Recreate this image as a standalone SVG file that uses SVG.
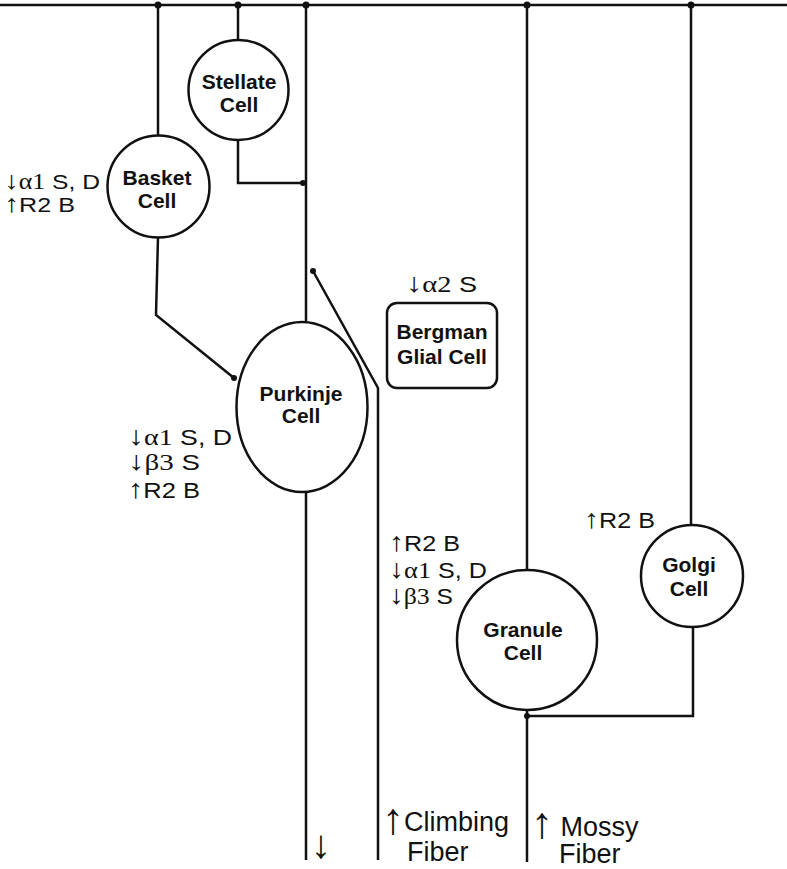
<svg xmlns="http://www.w3.org/2000/svg" width="787" height="869" viewBox="0 0 787 869">
<style>
.ln{stroke:#111;stroke-width:2.5;fill:none}
.cell{stroke:#111;stroke-width:2.5;fill:#fff}
.dot{fill:#111}
.nm{font-family:"Liberation Sans",Arial,sans-serif;font-weight:bold;font-size:21px;fill:#111;text-anchor:middle}
.lb{font-family:"Liberation Sans",Arial,sans-serif;font-size:22px;fill:#111}
.sm{font-size:21px}
.gr{font-family:"Liberation Serif","Times New Roman",serif;font-size:1.05em}
.ar{font-family:"Liberation Sans",Arial,sans-serif;font-size:1.2em}
.big{font-family:"Liberation Sans",Arial,sans-serif;font-size:27px;fill:#111}
.bar{font-family:"Liberation Sans",Arial,sans-serif;font-size:44px}
</style>
<rect width="787" height="869" fill="#fff"/>
<g id="connectors">
<line class="ln" x1="0" y1="5" x2="787" y2="5" stroke-width="3"/>
<line class="ln" x1="158" y1="5" x2="158" y2="136"/>
<line class="ln" x1="238" y1="5" x2="238" y2="40"/>
<line class="ln" x1="306" y1="5" x2="306" y2="322"/>
<line class="ln" x1="306" y1="492" x2="306" y2="860"/>
<line class="ln" x1="527" y1="5" x2="527" y2="570"/>
<line class="ln" x1="527" y1="710" x2="527" y2="862"/>
<line class="ln" x1="691" y1="5" x2="691" y2="525"/>
<polyline class="ln" points="238,140 238,183 303,183"/>
<polyline class="ln" points="158,237 156,315 234,378"/>
<polyline class="ln" points="313,271 378,388 378,860"/>
<polyline class="ln" points="527,716 693,716 693,627"/>
<circle class="dot" cx="158" cy="5" r="3.5"/>
<circle class="dot" cx="238" cy="5" r="3.5"/>
<circle class="dot" cx="306" cy="5" r="3.5"/>
<circle class="dot" cx="527" cy="5" r="3.5"/>
<circle class="dot" cx="691" cy="5" r="3.5"/>
<circle class="dot" cx="303" cy="183" r="3"/>
<circle class="dot" cx="234" cy="378" r="3"/>
<circle class="dot" cx="313" cy="271" r="3"/>
<circle class="dot" cx="527" cy="716" r="3"/>
</g>
<g id="stellate">
<circle class="cell" cx="238.5" cy="90" r="50"/>
<text class="nm" x="239" y="89">Stellate</text>
<text class="nm" x="239" y="112">Cell</text>
</g>
<g id="basket">
<circle class="cell" cx="158.5" cy="186.5" r="51"/>
<text class="nm" x="157" y="185">Basket</text>
<text class="nm" x="157" y="208">Cell</text>
<text class="lb sm" x="4" y="189" textLength="96" lengthAdjust="spacingAndGlyphs"><tspan class="ar">↓</tspan><tspan class="gr">α1</tspan> S, D</text>
<text class="lb sm" x="4" y="212" textLength="71" lengthAdjust="spacingAndGlyphs"><tspan class="ar">↑</tspan>R2 B</text>
</g>
<g id="purkinje">
<ellipse class="cell" cx="302" cy="407" rx="65.5" ry="85"/>
<text class="nm" x="301" y="401">Purkinje</text>
<text class="nm" x="301" y="423">Cell</text>
<text class="lb" x="128" y="445" textLength="104" lengthAdjust="spacingAndGlyphs"><tspan class="ar">↓</tspan><tspan class="gr">α1</tspan> S, D</text>
<text class="lb" x="128" y="470" textLength="72" lengthAdjust="spacingAndGlyphs"><tspan class="ar">↓</tspan><tspan class="gr">β3</tspan> S</text>
<text class="lb" x="128" y="498" textLength="72" lengthAdjust="spacingAndGlyphs"><tspan class="ar">↑</tspan>R2 B</text>
</g>
<g id="bergman">
<rect class="cell" x="387" y="303" width="110" height="85" rx="10"/>
<text class="nm" x="442" y="339">Bergman</text>
<text class="nm" x="442" y="364">Glial Cell</text>
<text class="lb" x="406" y="292" textLength="71" lengthAdjust="spacingAndGlyphs"><tspan class="ar">↓</tspan><tspan class="gr">α2</tspan> S</text>
</g>
<g id="granule">
<circle class="cell" cx="527" cy="640" r="70"/>
<text class="nm" x="523" y="637">Granule</text>
<text class="nm" x="523" y="660">Cell</text>
<text class="lb" x="389" y="551" textLength="71" lengthAdjust="spacingAndGlyphs"><tspan class="ar">↑</tspan>R2 B</text>
<text class="lb" x="389" y="578" textLength="98" lengthAdjust="spacingAndGlyphs"><tspan class="ar">↓</tspan><tspan class="gr">α1</tspan> S, D</text>
<text class="lb" x="389" y="604" textLength="64" lengthAdjust="spacingAndGlyphs"><tspan class="ar">↓</tspan><tspan class="gr">β3</tspan> S</text>
</g>
<g id="golgi">
<circle class="cell" cx="692" cy="576" r="51"/>
<text class="nm" x="689" y="572">Golgi</text>
<text class="nm" x="689" y="596">Cell</text>
<text class="lb" x="584" y="528" textLength="71" lengthAdjust="spacingAndGlyphs"><tspan class="ar">↑</tspan>R2 B</text>
</g>
<g id="fibers">
<text class="big" x="311" y="858"><tspan class="bar" style="font-size:40px">↓</tspan></text>
<text class="big" x="382" y="831"><tspan class="bar" dy="3">↑</tspan><tspan dy="-3">Climbing</tspan></text>
<text class="big" x="407" y="861">Fiber</text>
<text class="big" x="531" y="836"><tspan class="bar" dy="2">↑</tspan><tspan dy="-2"> Mossy</tspan></text>
<text class="big" x="559" y="863">Fiber</text>
</g>
</svg>
